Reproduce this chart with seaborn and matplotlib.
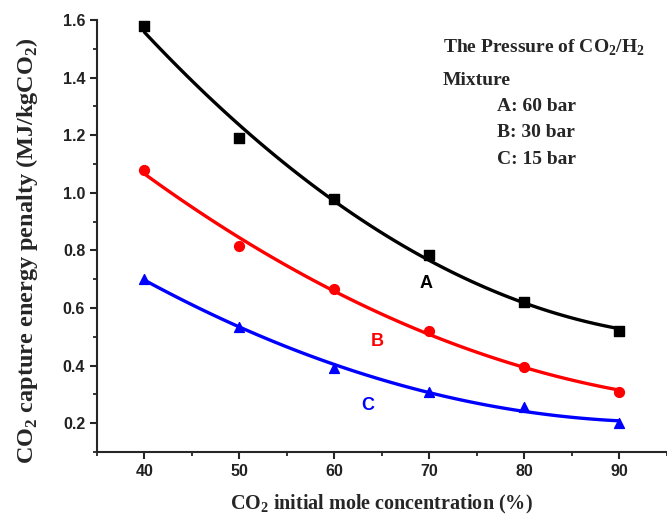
import matplotlib
matplotlib.use("Agg")
import numpy as np
import pandas as pd
import matplotlib.pyplot as plt
import seaborn as sns
from matplotlib.ticker import MultipleLocator

# --- Data ---
concentration = [40, 50, 60, 70, 80, 90]
penalty_60bar = [1.58, 1.19, 0.98, 0.785, 0.62, 0.52]
penalty_30bar = [1.08, 0.815, 0.665, 0.52, 0.395, 0.31]
penalty_15bar = [0.70, 0.535, 0.39, 0.31, 0.255, 0.20]

series_names = ["A", "B", "C"]
series_values = [penalty_60bar, penalty_30bar, penalty_15bar]
series_colors = ["black", "#ff0000", "#0000ff"]
series_markers = ["s", "o", "^"]
series_label_pos = [(69.7, 0.685), (64.5, 0.483), (63.5, 0.263)]
legend_lines = ["A: 60 bar", "B: 30 bar", "C: 15 bar"]

sns.set_style("ticks")
plt.rcParams["font.family"] = ["Liberation Sans", "DejaVu Sans"]
plt.rcParams["mathtext.fontset"] = "custom"
plt.rcParams["mathtext.rm"] = "Liberation Serif:bold"
plt.rcParams["mathtext.bf"] = "Liberation Serif:bold"

fig = plt.figure(figsize=(6.67, 5.2), dpi=100)
ax = fig.add_axes([0.1454, 0.1308, 0.854, 0.8307])

# quadratic fit curves + markers for each pressure
for name, vals, col, mk in zip(series_names, series_values, series_colors, series_markers):
    df = pd.DataFrame({"x": concentration, "y": vals})
    sns.regplot(data=df, x="x", y="y", order=2, ci=None, ax=ax, color=col,
                marker=mk, scatter_kws={"s": 50, "alpha": 1, "zorder": 3},
                line_kws={"linewidth": 2.4, "zorder": 2})

for name, col, (lx, ly) in zip(series_names, series_colors, series_label_pos):
    ax.text(lx, ly, name, color=col, fontsize=13, fontweight="bold",
            ha="center", va="center")

# legend-like text block
serif_kw = dict(transform=ax.transAxes, fontsize=14, fontweight="bold",
                family="Liberation Serif", va="center")
ax.text(0.607, 0.935, r"The Pressure of CO$_2$/H$_2$", **serif_kw)
ax.text(0.607, 0.861, "Mixture", **serif_kw)
for i, line in enumerate(legend_lines):
    ax.text(0.702, 0.799 - i * 0.0605, line, **serif_kw)

ax.set_xlim(35, 95)
ax.set_ylim(0.1, 1.6)
ax.xaxis.set_minor_locator(MultipleLocator(5))
ax.yaxis.set_minor_locator(MultipleLocator(0.1))
ax.set_xticks([40, 50, 60, 70, 80, 90])
ax.set_yticks([0.2, 0.4, 0.6, 0.8, 1.0, 1.2, 1.4, 1.6])
ax.tick_params(axis="both", which="major", direction="out", length=5, width=1.5,
               labelsize=11.5)
ax.tick_params(axis="both", which="minor", direction="out", length=3, width=1.3)
for lbl in ax.get_xticklabels() + ax.get_yticklabels():
    lbl.set_fontweight("bold")
    lbl.set_color("#222222")

for side in ["left", "bottom"]:
    ax.spines[side].set_linewidth(1.5)
sns.despine(ax=ax)

ax.set_xlabel(r"CO$_2$ initial mole concentration (%)", fontsize=14.5,
              fontweight="bold", family="Liberation Serif", labelpad=10)
ax.set_ylabel(r"CO$_2$ capture energy penalty (MJ/kgCO$_2$)", fontsize=17.5,
              fontweight="bold", family="Liberation Serif")
ax.yaxis.set_label_coords(-0.10, 0.465)

fig.savefig("out.png", dpi=100)
